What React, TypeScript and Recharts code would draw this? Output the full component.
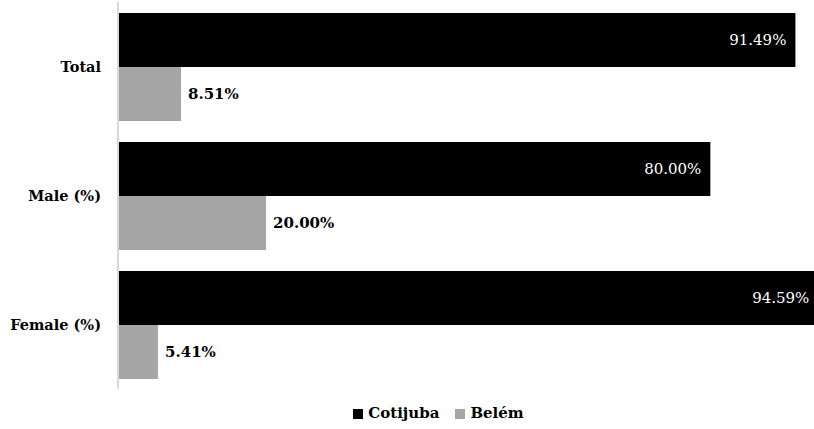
import { Bar, BarChart, LabelList, Legend, XAxis, YAxis } from "recharts";

const categories = ["Total", "Male (%)", "Female (%)"];
const cotijuba = [91.49, 80.0, 94.59];
const belem = [8.51, 20.0, 5.41];

const data = categories.map((c, i) => ({ name: c, cotijuba: cotijuba[i], belem: belem[i] }));

const FONT = "DejaVu Serif, serif";

function LegendContent() {
  const items = [
    { label: "Cotijuba", color: "#000000" },
    { label: "Belém", color: "#a6a6a6" },
  ];
  return (
    <div style={{ display: "flex", justifyContent: "center", gap: 16, fontFamily: FONT, fontWeight: 700, fontSize: 15, paddingLeft: 63, height: 21, lineHeight: "21px" }}>
      {items.map((it) => (
        <span key={it.label} style={{ display: "flex", alignItems: "center", gap: 5 }}>
          <span style={{ width: 10, height: 10, background: it.color, display: "inline-block" }} />
          {it.label}
        </span>
      ))}
    </div>
  );
}

export default function App() {
  return (
    <div style={{ position: "absolute", left: 0, top: 0, width: 814, height: 429, background: "#fff" }}>
      <BarChart
        width={814}
        height={429}
        data={data}
        layout="vertical"
        margin={{ top: 2, right: 0, bottom: 19, left: 0 }}
        barCategoryGap={11}
        barGap={0}
      >
        <XAxis type="number" domain={[0, 94]} allowDataOverflow hide />
        <YAxis
          type="category"
          dataKey="name"
          width={118}
          tickLine={false}
          axisLine={{ stroke: "#d9d9d9", strokeWidth: 2 }}
          tick={{ fontFamily: FONT, fontWeight: 700, fontSize: 14.5, fill: "#000" }}
          tickMargin={11}
        />
        <Legend verticalAlign="bottom" content={<LegendContent />} wrapperStyle={{ bottom: 5 }} />
        <Bar dataKey="cotijuba" name="Cotijuba" fill="#000000" isAnimationActive={false}>
          <LabelList
            dataKey="cotijuba"
            position="insideRight"
            offset={9}
            formatter={(v: number) => v.toFixed(2) + "%"}
            style={{ fontFamily: FONT, fontSize: 15, fill: "#ffffff" }}
          />
        </Bar>
        <Bar dataKey="belem" name="Belém" fill="#a6a6a6" isAnimationActive={false}>
          <LabelList
            dataKey="belem"
            position="right"
            offset={7}
            formatter={(v: number) => v.toFixed(2) + "%"}
            style={{ fontFamily: FONT, fontSize: 15, fontWeight: 700, fill: "#000000" }}
          />
        </Bar>
      </BarChart>
    </div>
  );
}
